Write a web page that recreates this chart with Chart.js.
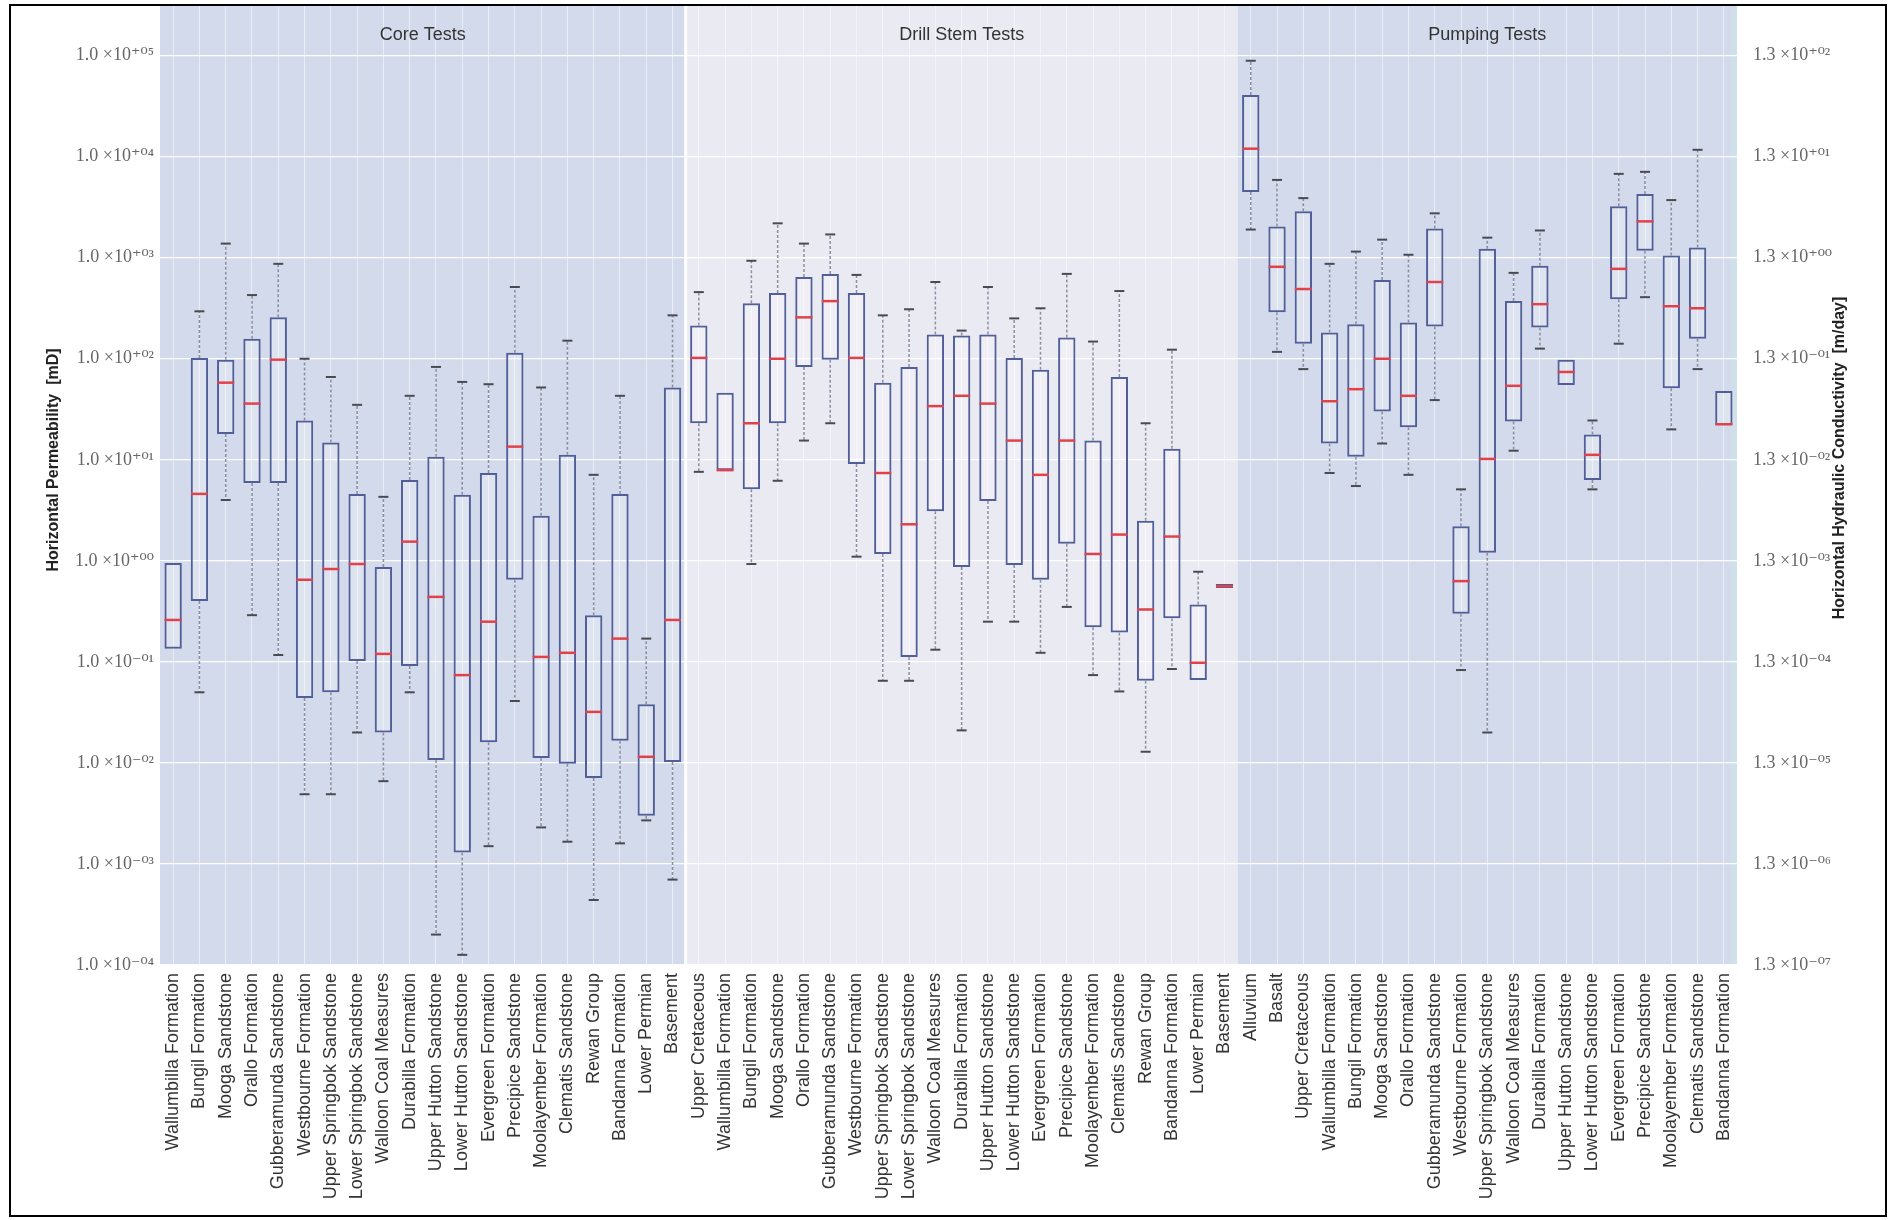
<!DOCTYPE html>
<html lang="en">
<head>
<meta charset="UTF-8">
<title>Horizontal Permeability by Formation</title>
<script src="https://cdn.jsdelivr.net/npm/chart.js"></script>
<style>
    body { margin: 0; background: #fff; }
    canvas { display: block; }
</style>
</head>
<body>
<canvas id="chart" width="1888" height="1220"></canvas>
<script>
// --- data (mD) ---
const coreLabels = ['Wallumbilla Formation', 'Bungil Formation', 'Mooga Sandstone', 'Orallo Formation', 'Gubberamunda Sandstone',
    'Westbourne Formation', 'Upper Springbok Sandstone', 'Lower Springbok Sandstone', 'Walloon Coal Measures', 'Durabilla Formation',
    'Upper Hutton Sandstone', 'Lower Hutton Sandstone', 'Evergreen Formation', 'Precipice Sandstone', 'Moolayember Formation',
    'Clematis Sandstone', 'Rewan Group', 'Bandanna Formation', 'Lower Permian', 'Basement'];
const coreLow  = [0.135, 0.050, 4.0, 0.29, 0.117, 0.0049, 0.0049, 0.020, 0.0066, 0.050, 0.0002, 0.000126, 0.0015, 0.041, 0.0023, 0.00166, 0.00044, 0.0016, 0.0027, 0.0007];
const coreQ1   = [0.135, 0.40, 18, 5.9, 5.9, 0.044, 0.050, 0.102, 0.020, 0.091, 0.0107, 0.0013, 0.016, 0.65, 0.0112, 0.0098, 0.0071, 0.0166, 0.0030, 0.0102];
const coreMed  = [0.26, 4.6, 58, 36, 98, 0.65, 0.83, 0.93, 0.12, 1.55, 0.44, 0.074, 0.25, 13.5, 0.112, 0.123, 0.032, 0.17, 0.0115, 0.26];
const coreQ3   = [0.95, 102, 98, 158, 257, 24.5, 14.8, 4.6, 0.87, 6.3, 10.7, 4.5, 7.4, 115, 2.8, 11.2, 0.29, 4.6, 0.038, 52];
const coreHigh = [0.95, 295, 1380, 427, 870, 100, 66, 35, 4.3, 43, 83, 59, 56, 513, 52, 151, 7.1, 43, 0.17, 269];

const drillLabels = ['Upper Cretaceous', 'Wallumbilla Formation', 'Bungil Formation', 'Mooga Sandstone', 'Orallo Formation',
    'Gubberamunda Sandstone', 'Westbourne Formation', 'Upper Springbok Sandstone', 'Lower Springbok Sandstone', 'Walloon Coal Measures',
    'Durabilla Formation', 'Upper Hutton Sandstone', 'Lower Hutton Sandstone', 'Evergreen Formation', 'Precipice Sandstone',
    'Moolayember Formation', 'Clematis Sandstone', 'Rewan Group', 'Bandanna Formation', 'Lower Permian', 'Basement'];
const drillLow  = [7.6, 7.9, 0.93, 6.2, 15.5, 23, 1.1, 0.065, 0.065, 0.132, 0.021, 0.25, 0.25, 0.123, 0.35, 0.074, 0.051, 0.0129, 0.085, 0.066, 0.54];
const drillQ1   = [23, 7.9, 5.1, 23, 83, 98, 9.1, 1.17, 0.112, 3.1, 0.87, 3.9, 0.91, 0.65, 1.48, 0.22, 0.195, 0.065, 0.27, 0.066, 0.54];
const drillMed  = [102, 7.9, 23, 100, 257, 372, 102, 7.4, 2.3, 34, 43, 36, 15.5, 7.1, 15.5, 1.17, 1.82, 0.33, 1.74, 0.098, 0.56];
const drillQ3   = [214, 46, 355, 447, 646, 692, 447, 58, 83, 174, 170, 174, 102, 78, 162, 15.5, 66, 2.5, 12.9, 0.37, 0.59];
const drillHigh = [457, 46, 933, 2190, 1380, 1700, 676, 269, 309, 575, 190, 513, 251, 316, 692, 148, 468, 23, 123, 0.78, 0.59];

const pumpLabels = ['Alluvium', 'Basalt', 'Upper Cretaceous', 'Wallumbilla Formation', 'Bungil Formation', 'Mooga Sandstone',
    'Orallo Formation', 'Gubberamunda Sandstone', 'Westbourne Formation', 'Upper Springbok Sandstone', 'Walloon Coal Measures',
    'Durabilla Formation', 'Upper Hutton Sandstone', 'Lower Hutton Sandstone', 'Evergreen Formation', 'Precipice Sandstone',
    'Moolayember Formation', 'Clematis Sandstone', 'Bandanna Formation'];
const pumpLow  = [1900, 117, 79, 7.4, 5.5, 14.5, 7.1, 39, 0.083, 0.020, 12.3, 126, 55, 5.1, 141, 407, 20, 79, 22];
const pumpQ1   = [4470, 288, 141, 14.5, 10.7, 30, 21, 209, 0.30, 1.2, 24, 204, 55, 6.3, 389, 1170, 51, 158, 22];
const pumpMed  = [12000, 813, 490, 38, 50, 100, 43, 575, 0.63, 10.2, 54, 347, 74, 11.2, 776, 2290, 331, 316, 22.5];
const pumpQ3   = [40700, 2040, 2880, 182, 219, 603, 229, 1950, 2.2, 1230, 372, 832, 98, 17.8, 3240, 4270, 1050, 1260, 48];
const pumpHigh = [89000, 5890, 3890, 870, 1150, 1510, 1070, 2750, 5.1, 1580, 708, 1860, 98, 24.5, 6760, 7080, 3720, 11700, 48];

const groupTitles = ['Core Tests', 'Drill Stem Tests', 'Pumping Tests'];
const leftExponents = [-4, -3, -2, -1, 0, 1, 2, 3, 4, 5];
const rightExponents = [-7, -6, -5, -4, -3, -2, -1, 0, 1, 2];
const mdToMday = 1.3e-3;   // 1 mD ~ 1.3e-3 m/day
const yMin = 1e-4, yMax = 3.1e5;

// combine the three test groups
const labels = [...coreLabels, ...drillLabels, ...pumpLabels];
const low  = [...coreLow, ...drillLow, ...pumpLow];
const q1   = [...coreQ1, ...drillQ1, ...pumpQ1];
const med  = [...coreMed, ...drillMed, ...pumpMed];
const q3   = [...coreQ3, ...drillQ3, ...pumpQ3];
const high = [...coreHigh, ...drillHigh, ...pumpHigh];

const groups = [
    { title: groupTitles[0], start: 0, end: coreLabels.length - 1, color: '#d3daeb' },
    { title: groupTitles[1], start: coreLabels.length, end: coreLabels.length + drillLabels.length - 1, color: '#eaeaf2' },
    { title: groupTitles[2], start: coreLabels.length + drillLabels.length, end: labels.length - 1, color: '#d3daeb' }
];

// whisker segments + caps, using category index as x
const whiskerPts = [];
const capPts = [];
labels.forEach((l, i) => {
    if (high[i] > q3[i]) {
        whiskerPts.push({ x: i, y: q3[i] }, { x: i, y: high[i] }, { x: i, y: null });
        capPts.push({ x: i, y: high[i] });
    }
    if (low[i] < q1[i]) {
        whiskerPts.push({ x: i, y: q1[i] }, { x: i, y: low[i] }, { x: i, y: null });
        capPts.push({ x: i, y: low[i] });
    }
});
const medianPts = med.map((v, i) => ({ x: i, y: v }));

const SUP = { '0': '⁰', '1': '¹', '2': '²', '3': '³', '4': '⁴', '5': '⁵', '6': '⁶', '7': '⁷', '8': '⁸', '9': '⁹', '+': '⁺', '-': '⁻' };
function sciLabel(mant, e) {
    const s = (e < 0 ? '-' : '+') + String(Math.abs(e)).padStart(2, '0');
    return mant + ' ×10' + s.split('').map(c => SUP[c]).join('');
}

const regionPlugin = {
    id: 'regions',
    beforeDraw(chart) {
        const { ctx, chartArea: a, scales: { x } } = chart;
        const half = (x.getPixelForValue(1) - x.getPixelForValue(0)) / 2;
        ctx.save();
        groups.forEach(g => {
            const x0 = Math.max(a.left, x.getPixelForValue(g.start) - half);
            const x1 = Math.min(a.right, x.getPixelForValue(g.end) + half);
            ctx.fillStyle = g.color;
            ctx.fillRect(x0, a.top, x1 - x0, a.bottom - a.top);
        });
        // thin white gap between core and drill stem spans
        const gx = x.getPixelForValue(groups[1].start) - half;
        ctx.fillStyle = '#ffffff';
        ctx.fillRect(gx - 1.5, a.top, 3, a.bottom - a.top);
        // light strip at right edge of pumping span
        ctx.fillStyle = '#cfe0ea';
        ctx.fillRect(a.right - 6, a.top, 6, a.bottom - a.top);
        ctx.restore();
    },
    afterDraw(chart) {
        const { ctx, chartArea: a, scales: { x } } = chart;
        ctx.save();
        ctx.fillStyle = '#333';
        ctx.font = '18px "Liberation Sans", Arial, sans-serif';
        ctx.textAlign = 'center';
        ctx.textBaseline = 'middle';
        groups.forEach(g => {
            const cx = (x.getPixelForValue(g.start) + x.getPixelForValue(g.end)) / 2;
            ctx.fillText(g.title, cx, a.top + 29);
        });
        // axis titles (both read bottom to top)
        ctx.fillStyle = '#222';
        ctx.font = 'bold 16px "Liberation Sans", Arial, sans-serif';
        ctx.translate(54, 460);
        ctx.rotate(-Math.PI / 2);
        ctx.fillText('Horizontal Permeability  [mD]', 0, 0);
        ctx.setTransform(1, 0, 0, 1, 0, 0);
        ctx.translate(1840, 458);
        ctx.rotate(-Math.PI / 2);
        ctx.fillText('Horizontal Hydraulic Conductivity  [m/day]', 0, 0);
        ctx.setTransform(1, 0, 0, 1, 0, 0);
        // figure frame
        ctx.strokeStyle = '#000';
        ctx.lineWidth = 2;
        ctx.strokeRect(10, 5, 1876, 1211);
        ctx.restore();
    }
};

const tickFont = { family: '"Liberation Serif", "DejaVu Serif", serif', size: 18 };

new Chart(document.getElementById('chart'), {
    type: 'bar',
    data: {
        labels: labels,
        datasets: [
            {
                type: 'line',
                data: whiskerPts,
                parsing: false,
                borderColor: 'rgba(105, 110, 135, 0.75)',
                borderWidth: 1.5,
                borderDash: [3, 2],
                pointRadius: 0,
                spanGaps: false,
                order: 4
            },
            {
                data: labels.map((l, i) => [q1[i], q3[i]]),
                backgroundColor: 'rgba(255, 255, 255, 0.25)',
                borderColor: '#525e98',
                borderWidth: 2,
                borderSkipped: false,
                barPercentage: 0.66,
                categoryPercentage: 1.0,
                order: 3
            },
            {
                type: 'line',
                data: capPts,
                parsing: false,
                showLine: false,
                pointStyle: 'line',
                pointRadius: 5,
                pointHoverRadius: 5,
                pointBorderColor: '#4a4a52',
                pointBorderWidth: 2,
                order: 2
            },
            {
                type: 'line',
                data: medianPts,
                parsing: false,
                showLine: false,
                pointStyle: 'line',
                pointRadius: 8.5,
                pointHoverRadius: 8.5,
                pointBorderColor: '#e0424c',
                pointBorderWidth: 2.5,
                order: 1
            }
        ]
    },
    options: {
        responsive: false,
        animation: false,
        // the median markers would otherwise push the plot down via auto padding
        layout: { autoPadding: false, padding: { top: 6, left: 0, right: 0, bottom: 0 } },
        plugins: { legend: { display: false }, tooltip: { enabled: false } },
        scales: {
            x: {
                type: 'category',
                grid: { color: 'rgba(255, 255, 255, 0.5)', offset: false, drawTicks: false },
                border: { display: false },
                ticks: {
                    autoSkip: false,
                    maxRotation: 90,
                    minRotation: 90,
                    padding: 8,
                    color: '#333',
                    font: { family: '"Liberation Sans", Arial, sans-serif', size: 18 }
                },
                afterFit: s => { s.height = 255; }
            },
            y: {
                type: 'logarithmic',
                position: 'left',
                min: yMin,
                max: yMax,
                bounds: 'data',
                afterBuildTicks: s => { s.ticks = leftExponents.map(e => ({ value: Math.pow(10, e) })); },
                grid: { color: 'rgba(255, 255, 255, 0.95)', lineWidth: 1.2, drawTicks: false },
                border: { display: false },
                ticks: {
                    padding: 6,
                    color: '#666',
                    font: tickFont,
                    callback: v => sciLabel('1.0', Math.round(Math.log10(v)))
                },
                afterFit: s => { s.width = 160; s.paddingTop = 0; s.paddingBottom = 0; }
            },
            y2: {
                type: 'logarithmic',
                position: 'right',
                min: yMin * mdToMday,
                max: yMax * mdToMday,
                bounds: 'data',
                afterBuildTicks: s => { s.ticks = rightExponents.map(e => ({ value: 1.3 * Math.pow(10, e) })); },
                grid: { display: false },
                border: { display: false },
                ticks: {
                    padding: 8,
                    color: '#666',
                    font: tickFont,
                    callback: v => sciLabel('1.3', Math.round(Math.log10(v / 1.3)))
                },
                afterFit: s => { s.width = 151; s.paddingTop = 0; s.paddingBottom = 0; }
            }
        }
    },
    plugins: [regionPlugin]
});
</script>
</body>
</html>
